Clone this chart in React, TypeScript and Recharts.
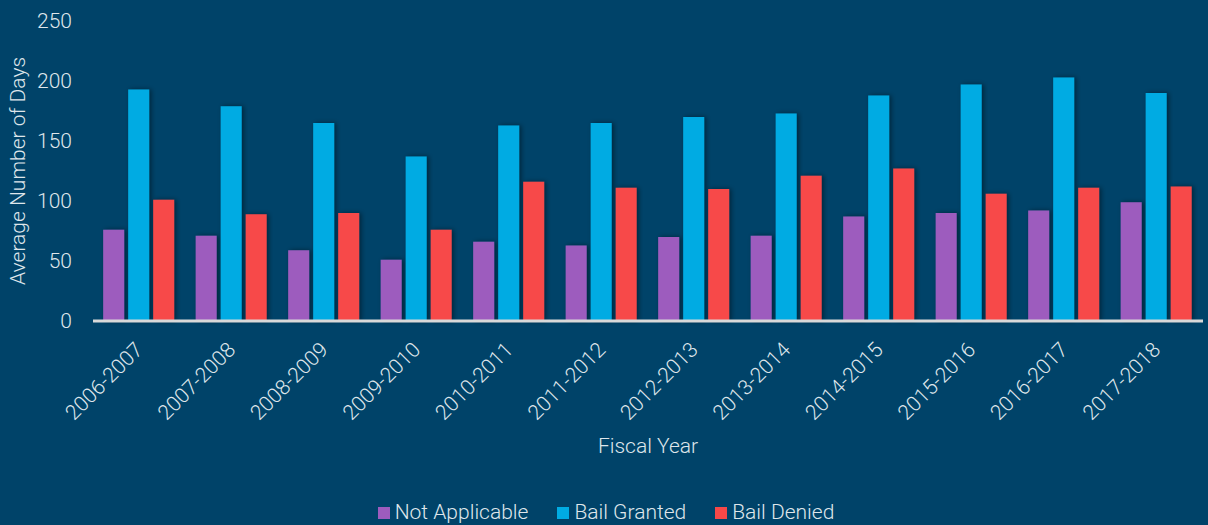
import { BarChart, Bar, XAxis, YAxis, Legend, Label, Rectangle } from 'recharts'

const years = [
  '2006-2007', '2007-2008', '2008-2009', '2009-2010', '2010-2011', '2011-2012',
  '2012-2013', '2013-2014', '2014-2015', '2015-2016', '2016-2017', '2017-2018',
]
const notApplicable = [76, 71, 59, 51, 66, 63, 70, 71, 87, 90, 92, 99]
const bailGranted = [193, 179, 165, 137, 163, 165, 170, 173, 188, 197, 203, 190]
const bailDenied = [101, 89, 90, 76, 116, 111, 110, 121, 127, 106, 111, 112]
const yTicks = [0, 50, 100, 150, 200, 250]

const data = years.map((year, i) => ({
  year,
  notApplicable: notApplicable[i],
  bailGranted: bailGranted[i],
  bailDenied: bailDenied[i],
}))

const BG = '#004369'
const TEXT = '#dfe6eb'
const FONT = 'Roboto, sans-serif'
const FS = 21

const series = [
  { key: 'notApplicable', name: 'Not Applicable', color: '#9d5cbe' },
  { key: 'bailGranted', name: 'Bail Granted', color: '#00abe3' },
  { key: 'bailDenied', name: 'Bail Denied', color: '#f74848' },
]

function YearTick({ x = 0, y = 0, payload }: { x?: number; y?: number; payload?: { value: string } }) {
  const ax = x + 5
  const ay = y + 22
  return (
    <text
      x={ax}
      y={ay}
      transform={`rotate(-45, ${ax}, ${ay})`}
      textAnchor="end"
      fill={TEXT}
      fontSize={FS}
      fontWeight={300}
      fontFamily={FONT}
    >
      {payload?.value}
    </text>
  )
}

function ShadowBar(props: any) {
  return <Rectangle {...props} filter="url(#barShadow)" />
}

function LegendContent() {
  return (
    <div style={{ display: 'flex', justifyContent: 'center', gap: 29, paddingLeft: 9, fontFamily: FONT, fontWeight: 300, fontSize: FS, color: TEXT, lineHeight: '26px' }}>
      {series.map((s) => (
        <div key={s.key} style={{ display: 'flex', alignItems: 'center', gap: 5 }}>
          <span style={{ width: 12, height: 12, background: s.color, display: 'inline-block', marginTop: 2 }} />
          <span>{s.name}</span>
        </div>
      ))}
    </div>
  )
}

export default function App() {
  return (
    <div style={{ position: 'absolute', left: 0, top: 0, width: 1208, height: 525, background: BG }}>
      <BarChart
        width={1208}
        height={525}
        data={data}
        margin={{ top: 21, right: 5, left: 0, bottom: 0 }}
        barCategoryGap="11%"
        barGap={4}
      >
        <defs>
          <filter id="barShadow" x="-30%" y="-10%" width="160%" height="120%">
            <feDropShadow dx="2" dy="0" stdDeviation="2.5" floodColor="#000" floodOpacity="0.45" />
          </filter>
        </defs>
        <YAxis
          domain={[0, 250]}
          ticks={yTicks}
          width={93}
          axisLine={false}
          tickLine={false}
          tickMargin={15}
          tick={{ fill: TEXT, fontSize: FS, fontWeight: 300, fontFamily: FONT }}
        >
          <Label
            value="Average Number of Days"
            angle={-90}
            position="insideLeft"
            offset={18}
            style={{ textAnchor: 'middle', fill: TEXT, fontSize: FS, fontWeight: 300, fontFamily: FONT }}
          />
        </YAxis>
        <XAxis
          dataKey="year"
          height={178}
          interval={0}
          tickLine={false}
          axisLine={{ stroke: '#d9d9d9', strokeWidth: 3 }}
          tick={<YearTick />}
        >
          <Label
            value="Fiscal Year"
            position="insideBottom"
            offset={46}
            style={{ fill: TEXT, fontSize: FS, fontWeight: 300, fontFamily: FONT }}
          />
        </XAxis>
        <Legend verticalAlign="bottom" height={26} content={<LegendContent />} />
        {series.map((s) => (
          <Bar
            key={s.key}
            dataKey={s.key}
            name={s.name}
            fill={s.color}
            shape={<ShadowBar />}
            isAnimationActive={false}
          />
        ))}
      </BarChart>
    </div>
  )
}
